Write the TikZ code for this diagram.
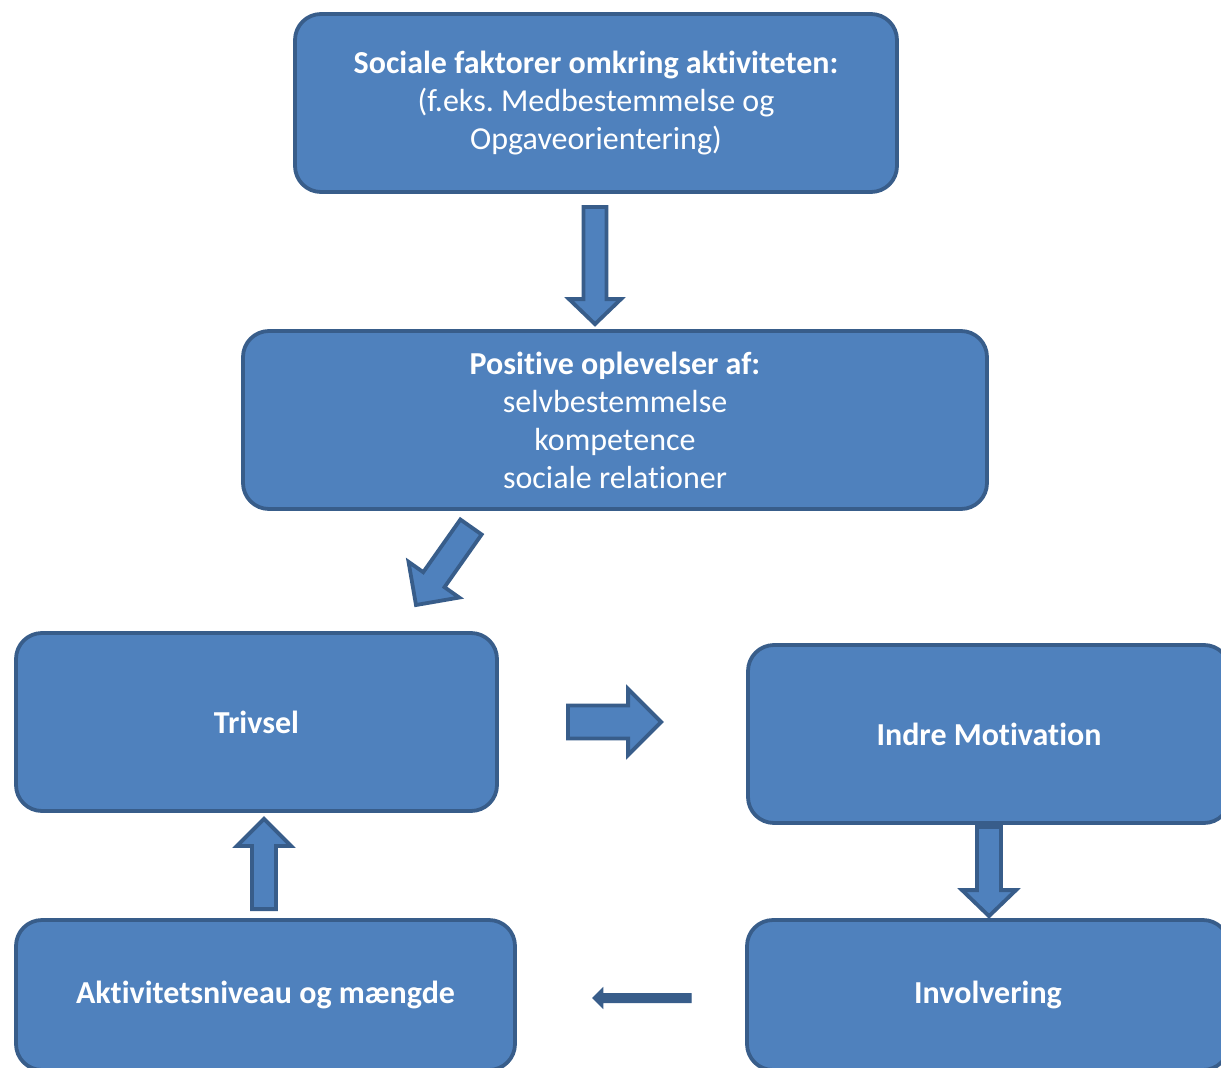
\documentclass[tikz,border=0pt]{standalone}
\usepackage{fontspec}
\setmainfont[Ligatures=NoCommon]{Carlito}
\frenchspacing
\usetikzlibrary{calc}
\definecolor{boxfill}{HTML}{4F81BD}
\definecolor{boxline}{HTML}{385D8A}
\tikzset{
  box/.style={draw=boxline, fill=boxfill, line width=3.8pt, rounded corners=26pt,
    text=white, align=center, inner sep=0pt,
    font=\fontsize{32}{38}\selectfont},
  barrow/.style={draw=boxline, fill=boxfill, line width=3.8pt, line join=miter},
  thinarrow/.style={draw=boxline, fill=boxline, line width=1pt, line join=miter},
}
\newcommand{\blockarr}[6]{%
  \coordinate (hh) at ($(#2)!#5!(#1)$);
  \draw[#6] ($(#1)!#3!90:(#2)$) -- ($(hh)!#3!90:(#2)$) -- ($(hh)!#4!90:(#2)$) -- (#2)
    -- ($(hh)!#4!-90:(#2)$) -- ($(hh)!#3!-90:(#2)$) -- ($(#1)!#3!-90:(#2)$) -- cycle;}
\begin{document}
\begin{tikzpicture}[x=1pt,y=-1pt]
\useasboundingbox (0,0) rectangle (1221,1068);
\clip (0,0) rectangle (1221,1068);
\fill[white] (0,0) rectangle (1221,1068);

\node[box, minimum width=602pt, minimum height=178pt] (soc) at (596,103)
  {\textbf{Sociale faktorer omkring aktiviteten:}\\(f.eks. Medbestemmelse og\\Opgaveorientering)};
\node[box, minimum width=744pt, minimum height=178pt] (pos) at (615,420)
  {\textbf{Positive oplevelser af:}\\selvbestemmelse\\kompetence\\sociale relationer};
\node[box, minimum width=481pt, minimum height=178pt] (triv) at (256.5,722)
  {\textbf{Trivsel}};
\node[box, minimum width=482pt, minimum height=178pt] (indre) at (989,734)
  {\textbf{Indre Motivation}};
\node[box, minimum width=499pt, minimum height=150pt] (akt) at (265.5,995)
  {\textbf{Aktivitetsniveau og mængde}};
\node[box, minimum width=482pt, minimum height=150pt] (inv) at (988,995)
  {\textbf{Involvering}};

% arrow end points
\coordinate (a1s) at ($(soc.south)+(-1,13)$);
\coordinate (a1t) at ($(pos.north)+(-20,-5)$);
\coordinate (a2s) at (471,527);
\coordinate (a2t) at (416,605);
\coordinate (a3s) at ($(triv.east)+(69,0)$);
\coordinate (a3t) at ($(indre.west)+(-85,-12)$);
\coordinate (a4s) at ($(indre.south)+(0,2)$);
\coordinate (a4t) at ($(inv.north)+(1,-2)$);
\coordinate (a5s) at ($(akt.north)+(-1.5,-9)$);
\coordinate (a5t) at ($(triv.south)+(7.5,6)$);
\coordinate (a6s) at ($(inv.west)+(-54,3)$);
\coordinate (a6t) at ($(akt.east)+(76,3)$);

\blockarr{a1s}{a1t}{11.5pt}{26pt}{25pt}{barrow}
\blockarr{a2s}{a2t}{13pt}{31pt}{31pt}{barrow}
\blockarr{a3s}{a3t}{16.5pt}{33pt}{33pt}{barrow}
\blockarr{a4s}{a4t}{12pt}{27pt}{26pt}{barrow}
\blockarr{a5s}{a5t}{12pt}{27pt}{27pt}{barrow}
\blockarr{a6s}{a6t}{4.5pt}{10pt}{10pt}{thinarrow}
\end{tikzpicture}
\end{document}
